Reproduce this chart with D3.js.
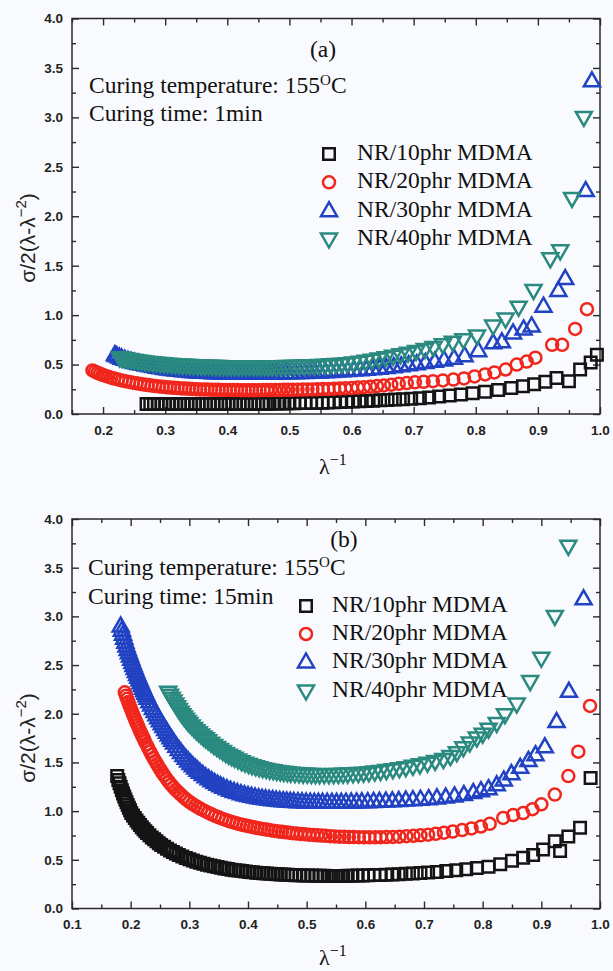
<!DOCTYPE html>
<html>
<head>
<meta charset="utf-8">
<script src="https://cdn.jsdelivr.net/npm/d3@7"></script>
<style>
  html, body { margin: 0; padding: 0; background: #f9fafd; }
  svg { display: block; }
</style>
</head>
<body>
<svg id="chart" width="613" height="971"></svg>
<script>
// ---- labels, ticks, series styling ----
const seriesLabels = ["NR/10phr MDMA", "NR/20phr MDMA", "NR/30phr MDMA", "NR/40phr MDMA"];
const seriesColors = ["#141414", "#f0261c", "#2142c2", "#2b8a80"];
const seriesShapes = ["square", "circle", "triangleUp", "triangleDown"];
const panelTags = ["(a)", "(b)"];
const curingTemperature = "155";
const curingTimes = ["1min", "15min"];
const xMajorTicksA = [0.2, 0.3, 0.4, 0.5, 0.6, 0.7, 0.8, 0.9, 1.0];
const xMinorTicksA = [0.15, 0.25, 0.35, 0.45, 0.55, 0.65, 0.75, 0.85, 0.95];
const xMajorTicksB = [0.1, 0.2, 0.3, 0.4, 0.5, 0.6, 0.7, 0.8, 0.9, 1.0];
const xMinorTicksB = [0.15, 0.25, 0.35, 0.45, 0.55, 0.65, 0.75, 0.85, 0.95];
const yMajorTicks = [0, 0.5, 1.0, 1.5, 2.0, 2.5, 3.0, 3.5, 4.0];
const yMinorTicks = [0.25, 0.75, 1.25, 1.75, 2.25, 2.75, 3.25, 3.75];

// ---- panel (a): cured 1 min, [1/lambda, reduced stress] ----
const a10 = [
[0.270,0.100],[0.276,0.100],[0.282,0.100],[0.288,0.100],[0.294,0.100],[0.300,0.100],[0.306,0.100],[0.312,0.100],
[0.318,0.100],[0.324,0.100],[0.330,0.100],[0.336,0.100],[0.342,0.100],[0.348,0.100],[0.354,0.100],[0.360,0.100],
[0.366,0.100],[0.372,0.100],[0.378,0.100],[0.384,0.100],[0.390,0.100],[0.396,0.102],[0.402,0.102],[0.408,0.102],
[0.414,0.102],[0.420,0.102],[0.426,0.102],[0.432,0.102],[0.438,0.102],[0.444,0.104],[0.450,0.104],[0.456,0.104],
[0.462,0.104],[0.468,0.104],[0.476,0.106],[0.484,0.106],[0.492,0.106],[0.500,0.108],[0.508,0.108],[0.517,0.110],
[0.526,0.110],[0.535,0.112],[0.544,0.114],[0.553,0.115],[0.562,0.117],[0.572,0.119],[0.582,0.121],[0.592,0.123],
[0.602,0.126],[0.613,0.129],[0.624,0.132],[0.635,0.135],[0.646,0.138],[0.658,0.142],[0.670,0.146],[0.683,0.150],
[0.696,0.155],[0.710,0.160],[0.725,0.168],[0.741,0.178],[0.758,0.188],[0.776,0.198],[0.795,0.210],[0.815,0.225],
[0.836,0.242],[0.857,0.262],[0.876,0.280],[0.894,0.300],[0.912,0.325],[0.930,0.365],[0.950,0.330],[0.968,0.450],
[0.985,0.520],[0.995,0.600]
];
const a20 = [
[0.183,0.440],[0.187,0.428],[0.191,0.417],[0.195,0.406],[0.199,0.396],[0.203,0.387],[0.208,0.377],[0.213,0.367],
[0.218,0.358],[0.224,0.349],[0.230,0.340],[0.236,0.332],[0.242,0.324],[0.248,0.317],[0.254,0.310],[0.260,0.304],
[0.266,0.298],[0.272,0.293],[0.278,0.288],[0.284,0.283],[0.290,0.279],[0.296,0.275],[0.302,0.271],[0.308,0.268],
[0.314,0.265],[0.320,0.262],[0.326,0.259],[0.332,0.257],[0.338,0.255],[0.344,0.253],[0.350,0.251],[0.356,0.249],
[0.362,0.248],[0.368,0.247],[0.374,0.246],[0.380,0.245],[0.386,0.244],[0.392,0.243],[0.398,0.243],[0.404,0.242],
[0.410,0.242],[0.416,0.242],[0.422,0.241],[0.428,0.241],[0.434,0.241],[0.440,0.241],[0.446,0.241],[0.452,0.241],
[0.458,0.242],[0.464,0.242],[0.470,0.242],[0.477,0.243],[0.484,0.243],[0.491,0.244],[0.498,0.244],[0.505,0.245],
[0.513,0.246],[0.521,0.247],[0.529,0.248],[0.537,0.249],[0.545,0.250],[0.554,0.252],[0.563,0.254],[0.572,0.256],
[0.581,0.258],[0.590,0.261],[0.600,0.264],[0.610,0.267],[0.620,0.271],[0.630,0.276],[0.641,0.282],[0.652,0.289],
[0.664,0.297],[0.676,0.305],[0.689,0.313],[0.702,0.320],[0.716,0.326],[0.731,0.332],[0.747,0.340],[0.764,0.348],
[0.781,0.360],[0.798,0.380],[0.815,0.400],[0.830,0.420],[0.848,0.450],[0.866,0.500],[0.882,0.530],[0.896,0.570],
[0.923,0.700],[0.939,0.700],[0.960,0.860],[0.979,1.060]
];
const a30 = [
[0.219,0.600],[0.222,0.588],[0.226,0.576],[0.230,0.565],[0.235,0.553],[0.240,0.542],[0.245,0.532],[0.251,0.522],
[0.257,0.512],[0.263,0.503],[0.269,0.495],[0.275,0.487],[0.281,0.480],[0.287,0.473],[0.293,0.467],[0.299,0.461],
[0.305,0.456],[0.311,0.451],[0.317,0.446],[0.323,0.442],[0.329,0.438],[0.335,0.434],[0.341,0.431],[0.347,0.428],
[0.353,0.425],[0.359,0.423],[0.365,0.421],[0.371,0.419],[0.377,0.417],[0.383,0.416],[0.389,0.415],[0.395,0.414],
[0.401,0.413],[0.407,0.412],[0.413,0.412],[0.419,0.411],[0.425,0.411],[0.431,0.411],[0.437,0.411],[0.443,0.411],
[0.449,0.411],[0.455,0.411],[0.461,0.412],[0.467,0.412],[0.473,0.413],[0.480,0.414],[0.487,0.415],[0.494,0.416],
[0.501,0.417],[0.509,0.418],[0.517,0.419],[0.525,0.420],[0.533,0.422],[0.541,0.424],[0.549,0.426],[0.558,0.428],
[0.567,0.431],[0.576,0.434],[0.585,0.437],[0.594,0.440],[0.604,0.444],[0.614,0.448],[0.624,0.452],[0.634,0.457],
[0.645,0.463],[0.656,0.470],[0.668,0.478],[0.680,0.487],[0.692,0.497],[0.705,0.508],[0.719,0.520],[0.734,0.533],
[0.749,0.547],[0.765,0.565],[0.782,0.590],[0.804,0.640],[0.828,0.720],[0.842,0.730],[0.860,0.820],[0.877,0.860],
[0.890,0.890],[0.909,1.090],[0.933,1.250],[0.944,1.370],[0.977,2.260],[0.987,3.370]
];
const a40 = [
[0.227,0.570],[0.231,0.564],[0.235,0.558],[0.240,0.552],[0.245,0.546],[0.250,0.541],[0.256,0.536],[0.262,0.531],
[0.268,0.526],[0.274,0.522],[0.280,0.518],[0.286,0.514],[0.292,0.510],[0.298,0.507],[0.304,0.504],[0.310,0.501],
[0.316,0.498],[0.322,0.496],[0.328,0.494],[0.334,0.492],[0.340,0.490],[0.346,0.488],[0.352,0.487],[0.358,0.485],
[0.364,0.484],[0.370,0.483],[0.376,0.482],[0.382,0.481],[0.388,0.480],[0.394,0.479],[0.400,0.479],[0.406,0.478],
[0.412,0.478],[0.418,0.477],[0.424,0.477],[0.430,0.477],[0.436,0.477],[0.442,0.477],[0.448,0.477],[0.454,0.477],
[0.460,0.477],[0.466,0.478],[0.472,0.478],[0.479,0.479],[0.486,0.479],[0.493,0.480],[0.500,0.481],[0.508,0.482],
[0.516,0.483],[0.524,0.485],[0.532,0.487],[0.540,0.489],[0.548,0.491],[0.557,0.494],[0.566,0.497],[0.575,0.500],
[0.584,0.504],[0.593,0.509],[0.603,0.516],[0.613,0.524],[0.623,0.533],[0.633,0.543],[0.644,0.555],[0.655,0.568],
[0.667,0.583],[0.679,0.598],[0.691,0.615],[0.704,0.633],[0.718,0.652],[0.732,0.672],[0.747,0.700],[0.763,0.725],
[0.780,0.750],[0.802,0.790],[0.828,0.890],[0.848,0.960],[0.869,1.080],[0.893,1.250],[0.920,1.570],[0.936,1.650],
[0.955,2.180],[0.974,3.000]
];

// ---- panel (b): cured 15 min ----
const b10 = [
[0.177,1.360],[0.179,1.320],[0.181,1.285],[0.183,1.250],[0.185,1.215],[0.187,1.182],[0.189,1.150],[0.191,1.120],
[0.193,1.090],[0.195,1.062],[0.197,1.035],[0.199,1.008],[0.201,0.982],[0.204,0.955],[0.207,0.930],[0.210,0.905],
[0.213,0.880],[0.216,0.857],[0.219,0.835],[0.222,0.814],[0.225,0.794],[0.228,0.775],[0.232,0.752],[0.236,0.730],
[0.240,0.710],[0.244,0.690],[0.248,0.671],[0.252,0.653],[0.257,0.633],[0.262,0.614],[0.267,0.596],[0.272,0.580],
[0.277,0.565],[0.282,0.550],[0.288,0.534],[0.294,0.519],[0.300,0.506],[0.306,0.493],[0.312,0.481],[0.318,0.470],
[0.324,0.460],[0.330,0.450],[0.336,0.441],[0.342,0.433],[0.348,0.425],[0.354,0.418],[0.360,0.411],[0.366,0.405],
[0.372,0.399],[0.378,0.394],[0.384,0.389],[0.390,0.384],[0.396,0.380],[0.402,0.376],[0.408,0.372],[0.414,0.368],
[0.420,0.365],[0.426,0.362],[0.432,0.359],[0.438,0.356],[0.444,0.354],[0.450,0.352],[0.456,0.350],[0.462,0.348],
[0.468,0.346],[0.474,0.344],[0.481,0.342],[0.488,0.341],[0.495,0.340],[0.502,0.339],[0.509,0.338],[0.516,0.337],
[0.523,0.336],[0.530,0.336],[0.538,0.335],[0.546,0.335],[0.554,0.335],[0.562,0.335],[0.570,0.336],[0.578,0.337],
[0.587,0.338],[0.596,0.339],[0.605,0.341],[0.615,0.343],[0.625,0.345],[0.635,0.347],[0.646,0.350],[0.657,0.353],
[0.669,0.356],[0.681,0.360],[0.694,0.364],[0.707,0.369],[0.722,0.376],[0.738,0.384],[0.755,0.393],[0.772,0.403],
[0.790,0.415],[0.810,0.430],[0.830,0.455],[0.850,0.490],[0.869,0.520],[0.886,0.550],[0.903,0.605],[0.923,0.690],
[0.932,0.590],[0.946,0.740],[0.966,0.830],[0.984,1.340]
];
const b20 = [
[0.190,2.220],[0.192,2.186],[0.194,2.153],[0.196,2.120],[0.198,2.088],[0.200,2.057],[0.202,2.026],[0.204,1.996],
[0.206,1.966],[0.208,1.937],[0.210,1.908],[0.212,1.880],[0.214,1.852],[0.216,1.825],[0.218,1.798],[0.220,1.772],
[0.222,1.746],[0.224,1.720],[0.227,1.683],[0.230,1.647],[0.233,1.612],[0.236,1.578],[0.239,1.545],[0.242,1.513],
[0.245,1.482],[0.248,1.452],[0.251,1.423],[0.254,1.395],[0.257,1.368],[0.261,1.334],[0.265,1.302],[0.269,1.272],
[0.273,1.244],[0.277,1.218],[0.281,1.194],[0.285,1.171],[0.290,1.144],[0.295,1.119],[0.300,1.096],[0.305,1.075],
[0.310,1.056],[0.315,1.038],[0.320,1.021],[0.326,1.002],[0.332,0.984],[0.338,0.967],[0.344,0.951],[0.350,0.936],
[0.356,0.922],[0.362,0.909],[0.368,0.897],[0.374,0.886],[0.380,0.876],[0.386,0.866],[0.392,0.857],[0.398,0.849],
[0.404,0.841],[0.410,0.834],[0.416,0.827],[0.422,0.820],[0.428,0.814],[0.434,0.808],[0.440,0.802],[0.446,0.797],
[0.452,0.792],[0.458,0.787],[0.464,0.782],[0.470,0.778],[0.476,0.774],[0.483,0.770],[0.490,0.766],[0.497,0.762],
[0.504,0.758],[0.511,0.755],[0.518,0.752],[0.525,0.749],[0.532,0.746],[0.540,0.743],[0.548,0.740],[0.556,0.738],
[0.564,0.736],[0.572,0.734],[0.580,0.733],[0.589,0.732],[0.598,0.731],[0.607,0.731],[0.617,0.731],[0.626,0.732],
[0.636,0.733],[0.647,0.735],[0.658,0.738],[0.670,0.742],[0.682,0.747],[0.694,0.752],[0.707,0.758],[0.720,0.767],
[0.734,0.778],[0.749,0.790],[0.765,0.805],[0.781,0.822],[0.797,0.842],[0.812,0.870],[0.835,0.930],[0.852,0.960],
[0.869,0.980],[0.885,1.020],[0.900,1.070],[0.923,1.170],[0.946,1.360],[0.963,1.610],[0.983,2.080]
];
const b30 = [
[0.183,2.900],[0.185,2.858],[0.187,2.816],[0.189,2.775],[0.191,2.735],[0.193,2.695],[0.195,2.660],[0.197,2.626],
[0.199,2.592],[0.201,2.559],[0.203,2.527],[0.205,2.495],[0.207,2.464],[0.209,2.433],[0.211,2.403],[0.213,2.374],
[0.215,2.346],[0.217,2.318],[0.219,2.290],[0.221,2.263],[0.223,2.237],[0.225,2.211],[0.227,2.185],[0.229,2.160],
[0.232,2.124],[0.235,2.089],[0.238,2.055],[0.241,2.022],[0.244,1.990],[0.247,1.959],[0.250,1.928],[0.253,1.898],
[0.256,1.868],[0.259,1.839],[0.262,1.810],[0.265,1.782],[0.268,1.754],[0.271,1.727],[0.274,1.700],[0.278,1.666],
[0.282,1.633],[0.286,1.601],[0.290,1.571],[0.294,1.543],[0.298,1.516],[0.302,1.490],[0.306,1.466],[0.310,1.443],
[0.314,1.421],[0.318,1.400],[0.323,1.376],[0.328,1.353],[0.333,1.332],[0.338,1.312],[0.343,1.294],[0.348,1.277],
[0.353,1.261],[0.358,1.246],[0.364,1.230],[0.370,1.215],[0.376,1.202],[0.382,1.190],[0.388,1.179],[0.394,1.169],
[0.400,1.160],[0.406,1.152],[0.412,1.145],[0.418,1.138],[0.424,1.132],[0.430,1.127],[0.436,1.122],[0.442,1.118],
[0.448,1.114],[0.454,1.110],[0.460,1.107],[0.466,1.104],[0.472,1.101],[0.478,1.099],[0.485,1.097],[0.492,1.095],
[0.499,1.093],[0.506,1.092],[0.513,1.091],[0.520,1.090],[0.527,1.090],[0.535,1.090],[0.543,1.090],[0.551,1.090],
[0.559,1.091],[0.567,1.092],[0.576,1.093],[0.585,1.094],[0.594,1.095],[0.604,1.097],[0.614,1.099],[0.624,1.101],
[0.635,1.103],[0.646,1.106],[0.657,1.109],[0.669,1.113],[0.681,1.117],[0.694,1.122],[0.708,1.128],[0.722,1.136],
[0.737,1.145],[0.752,1.156],[0.768,1.170],[0.784,1.190],[0.797,1.210],[0.810,1.230],[0.824,1.270],[0.836,1.320],
[0.849,1.385],[0.864,1.450],[0.878,1.520],[0.890,1.580],[0.906,1.660],[0.926,1.920],[0.947,2.230],[0.972,3.180]
];
const b40 = [
[0.264,2.220],[0.267,2.190],[0.270,2.160],[0.273,2.130],[0.276,2.100],[0.279,2.071],[0.282,2.043],[0.285,2.016],
[0.288,1.990],[0.291,1.966],[0.294,1.943],[0.297,1.921],[0.300,1.900],[0.304,1.874],[0.308,1.849],[0.312,1.826],
[0.316,1.804],[0.320,1.783],[0.324,1.762],[0.328,1.742],[0.332,1.722],[0.337,1.698],[0.342,1.675],[0.347,1.653],
[0.352,1.632],[0.357,1.612],[0.362,1.593],[0.367,1.575],[0.372,1.558],[0.377,1.542],[0.383,1.524],[0.389,1.507],
[0.395,1.492],[0.401,1.478],[0.407,1.466],[0.413,1.455],[0.419,1.445],[0.425,1.436],[0.431,1.428],[0.437,1.421],
[0.443,1.414],[0.449,1.408],[0.455,1.403],[0.461,1.398],[0.467,1.394],[0.473,1.390],[0.480,1.386],[0.487,1.383],
[0.494,1.380],[0.501,1.378],[0.508,1.376],[0.515,1.375],[0.522,1.374],[0.530,1.374],[0.538,1.374],[0.546,1.375],
[0.554,1.376],[0.562,1.378],[0.570,1.380],[0.579,1.383],[0.588,1.386],[0.597,1.390],[0.606,1.395],[0.616,1.401],
[0.626,1.408],[0.636,1.416],[0.647,1.425],[0.658,1.435],[0.669,1.446],[0.681,1.460],[0.693,1.475],[0.706,1.492],
[0.719,1.510],[0.733,1.530],[0.745,1.560],[0.756,1.600],[0.767,1.650],[0.778,1.700],[0.790,1.750],[0.800,1.790],
[0.810,1.840],[0.824,1.900],[0.838,1.990],[0.858,2.100],[0.881,2.330],[0.900,2.570],[0.923,3.000],[0.946,3.720]
];

// ---- drawing ----
const svg = d3.select("#chart");
const SERIF = "'Liberation Serif', 'Times New Roman', serif";
const SANS = "'Liberation Sans', Arial, sans-serif";
const AXIS_COLOR = "#2a2a2a";
const MARKER_STROKE = 2.5;
const TEXT_SIZE = 23.5;

const markerPath = {
  square: "M-5.75,-5.75H5.75V5.75H-5.75Z",
  circle: "M6,0A6,6 0 1,1 -6,0A6,6 0 1,1 6,0Z",
  triangleUp: "M0,-8.5L8,5.5L-8,5.5Z",
  triangleDown: "M0,8.5L8,-5.5L-8,-5.5Z"
};

const panels = [
  {
    tag: panelTags[0], time: curingTimes[0],
    top: 18.5, bottom: 414, left: 72, right: 600,
    xDomain: [0.15, 1.0], xMajor: xMajorTicksA, xMinor: xMinorTicksA,
    series: [a10, a20, a30, a40],
    tagPos: [323, 57], tempY: 93, timeY: 121, textX: 89,
    legend: { markerX: 329, textX: 357, baselines: [160, 188.3, 216.7, 245] },
    yTitleY: 238, xTitleY: 474
  },
  {
    tag: panelTags[1], time: curingTimes[1],
    top: 519, bottom: 908.5, left: 72, right: 600,
    xDomain: [0.1, 1.0], xMajor: xMajorTicksB, xMinor: xMinorTicksB,
    series: [b10, b20, b30, b40],
    tagPos: [344, 547], tempY: 575, timeY: 604, textX: 88,
    legend: { markerX: 306, textX: 332, baselines: [612, 640, 668, 697] },
    yTitleY: 738, xTitleY: 965
  }
];

panels.forEach(p => {
  const x = d3.scaleLinear().domain(p.xDomain).range([p.left, p.right]);
  const y = d3.scaleLinear().domain([0, 4]).range([p.bottom, p.top]);
  const g = svg.append("g");

  // frame
  g.append("rect")
    .attr("x", p.left).attr("y", p.top)
    .attr("width", p.right - p.left).attr("height", p.bottom - p.top)
    .attr("fill", "none").attr("stroke", AXIS_COLOR).attr("stroke-width", 1.5);

  const styleAxis = sel => {
    sel.select(".domain").remove();
    sel.selectAll(".tick line").attr("stroke", AXIS_COLOR).attr("stroke-width", 1.4);
    sel.selectAll(".tick text")
      .attr("fill", "#222").attr("font-family", SANS)
      .attr("font-size", 13.5).attr("font-weight", "bold");
  };

  // bottom axis: labelled major ticks and minor ticks, both pointing inward
  g.append("g").attr("transform", `translate(0,${p.bottom})`)
    .call(d3.axisBottom(x).tickValues(p.xMajor).tickSize(-7).tickPadding(11).tickFormat(d3.format(".1f")))
    .call(styleAxis);
  g.append("g").attr("transform", `translate(0,${p.bottom})`)
    .call(d3.axisBottom(x).tickValues(p.xMinor).tickSize(-4).tickFormat(""))
    .call(styleAxis);
  // top mirror axis
  g.append("g").attr("transform", `translate(0,${p.top})`)
    .call(d3.axisTop(x).tickValues(p.xMajor).tickSize(-7).tickFormat(""))
    .call(styleAxis);
  g.append("g").attr("transform", `translate(0,${p.top})`)
    .call(d3.axisTop(x).tickValues(p.xMinor).tickSize(-4).tickFormat(""))
    .call(styleAxis);
  // left axis
  g.append("g").attr("transform", `translate(${p.left},0)`)
    .call(d3.axisLeft(y).tickValues(yMajorTicks).tickSize(-7).tickPadding(9).tickFormat(d3.format(".1f")))
    .call(styleAxis);
  g.append("g").attr("transform", `translate(${p.left},0)`)
    .call(d3.axisLeft(y).tickValues(yMinorTicks).tickSize(-4).tickFormat(""))
    .call(styleAxis);
  // right mirror axis
  g.append("g").attr("transform", `translate(${p.right},0)`)
    .call(d3.axisRight(y).tickValues(yMajorTicks).tickSize(-7).tickFormat(""))
    .call(styleAxis);
  g.append("g").attr("transform", `translate(${p.right},0)`)
    .call(d3.axisRight(y).tickValues(yMinorTicks).tickSize(-4).tickFormat(""))
    .call(styleAxis);

  // data markers
  p.series.forEach((data, i) => {
    g.append("g")
      .selectAll("path")
      .data(data)
      .join("path")
      .attr("transform", d => `translate(${x(d[0])},${y(d[1])})`)
      .attr("d", markerPath[seriesShapes[i]])
      .attr("fill", "none")
      .attr("stroke", seriesColors[i])
      .attr("stroke-width", MARKER_STROKE);
  });

  // legend
  seriesLabels.forEach((label, i) => {
    const by = p.legend.baselines[i];
    g.append("path")
      .attr("transform", `translate(${p.legend.markerX},${by - 6})`)
      .attr("d", markerPath[seriesShapes[i]])
      .attr("fill", "none").attr("stroke", seriesColors[i]).attr("stroke-width", MARKER_STROKE);
    g.append("text")
      .attr("x", p.legend.textX).attr("y", by)
      .attr("font-family", SERIF).attr("font-size", TEXT_SIZE).attr("fill", "#111")
      .text(label);
  });

  // panel tag and curing conditions
  g.append("text")
    .attr("x", p.tagPos[0]).attr("y", p.tagPos[1])
    .attr("text-anchor", "middle")
    .attr("font-family", SERIF).attr("font-size", TEXT_SIZE).attr("fill", "#111")
    .text(p.tag);

  const temp = g.append("text")
    .attr("x", p.textX).attr("y", p.tempY)
    .attr("font-family", SERIF).attr("font-size", TEXT_SIZE).attr("fill", "#111");
  temp.append("tspan").text(`Curing temperature: ${curingTemperature}`);
  temp.append("tspan").attr("dy", -8).attr("font-size", 15).text("O");
  temp.append("tspan").attr("dy", 8).text("C");

  g.append("text")
    .attr("x", p.textX).attr("y", p.timeY)
    .attr("font-family", SERIF).attr("font-size", TEXT_SIZE).attr("fill", "#111")
    .text(`Curing time: ${p.time}`);

  // y-axis title (rotated)
  const yt = g.append("text")
    .attr("transform", `translate(35,${p.yTitleY}) rotate(-90)`)
    .attr("text-anchor", "middle")
    .attr("font-family", SANS).attr("font-size", 21).attr("fill", "#222");
  yt.append("tspan").text("\u03c3/2(\u03bb-\u03bb");
  yt.append("tspan").attr("dy", -9).attr("font-size", 15).text("\u22122");
  yt.append("tspan").attr("dy", 9).text(")");

  // x-axis title
  const xt = g.append("text")
    .attr("x", 319).attr("y", p.xTitleY)
    .attr("font-family", SERIF).attr("font-size", 22).attr("fill", "#111");
  xt.append("tspan").text("\u03bb");
  xt.append("tspan").attr("dy", -9).attr("font-size", 16).text("\u22121");
});
</script>
</body>
</html>
